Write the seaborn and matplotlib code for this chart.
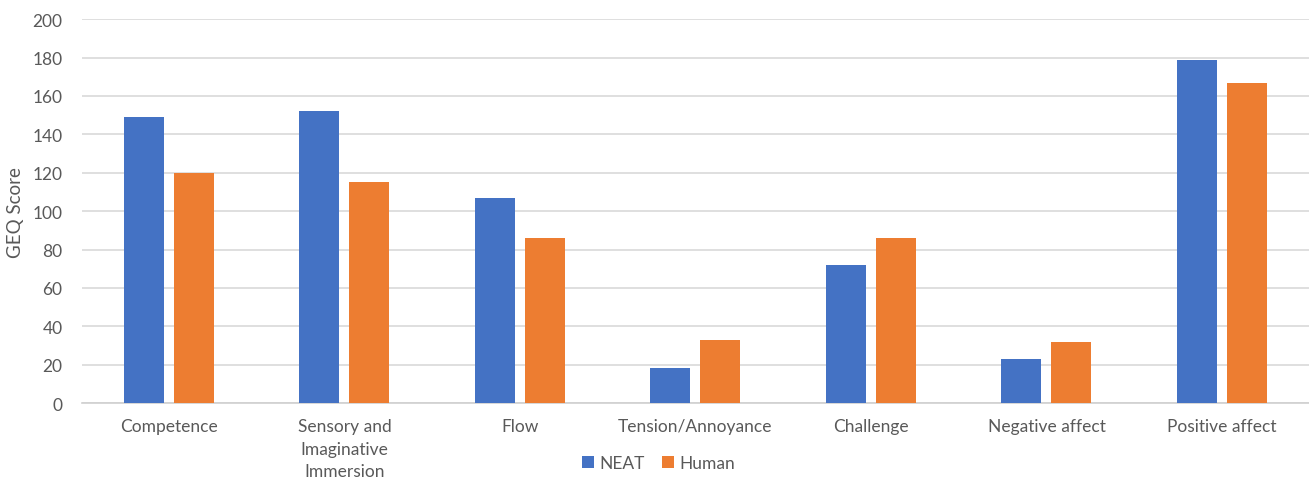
import matplotlib
matplotlib.use("Agg")
import matplotlib.pyplot as plt
import seaborn as sns
import pandas as pd

categories = ["Competence", "Sensory and\nImaginative\nImmersion", "Flow",
              "Tension/Annoyance", "Challenge", "Negative affect", "Positive affect"]
neat_scores = [149, 152, 107, 18, 72, 23, 179]
human_scores = [120, 115, 86, 33, 86, 32, 167]
series_names = ["NEAT", "Human"]
y_ticks = [0, 20, 40, 60, 80, 100, 120, 140, 160, 180, 200]

df = pd.DataFrame({
    "category": categories * 2,
    "score": neat_scores + human_scores,
    "group": [series_names[0]] * len(categories) + [series_names[1]] * len(categories),
})

sns.set_theme(style="white")
plt.rcParams["font.family"] = ["Lato", "DejaVu Sans"]

fig = plt.figure(figsize=(13.09, 4.81), dpi=100)
ax = fig.add_axes([0.0626, 0.16, 0.9374, 0.798])

sns.barplot(data=df, x="category", y="score", hue="group",
            palette=["#4472C4", "#ED7D31"], saturation=1,
            width=0.57, gap=0.2, ax=ax, zorder=3, linewidth=0)

ax.set_ylim(0, 200)
ax.set_yticks(y_ticks)
ax.yaxis.grid(True, color="#D9D9D9", linewidth=1.2, zorder=0)
ax.set_axisbelow(True)
for side in ["top", "right", "left"]:
    ax.spines[side].set_visible(False)
ax.spines["bottom"].set_color("#D0D0D0")
ax.spines["bottom"].set_linewidth(1.2)
ax.tick_params(axis="both", length=0, labelsize=12.5, colors="#595959")
ax.tick_params(axis="x", pad=11)
ax.tick_params(axis="y", pad=14)
for lbl in ax.get_xticklabels():
    lbl.set_linespacing(1.5)
ax.set_xlabel("")
ax.set_ylabel("GEQ Score", fontsize=13.5, color="#595959", labelpad=6)
ax.set_xlim(-0.496, 6.496)

ax.legend(loc="upper center", bbox_to_anchor=(0.47, -0.095), ncol=2, frameon=False,
          fontsize=12.5, handlelength=0.7, handleheight=0.7, handletextpad=0.3,
          columnspacing=1.0, labelcolor="#595959")

fig.savefig("out.png", dpi=100, facecolor="white")
